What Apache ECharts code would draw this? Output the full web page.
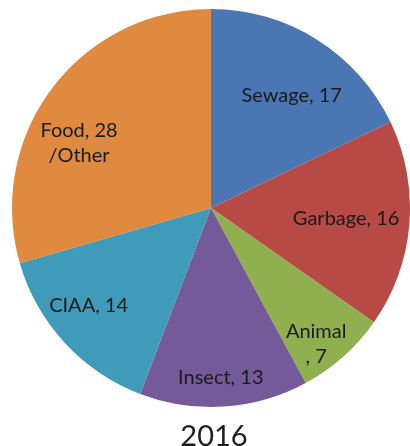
<!DOCTYPE html>
<html>
<head>
<meta charset="utf-8">
<script src="https://cdn.jsdelivr.net/npm/echarts@6/dist/echarts.min.js"></script>
<style>
html,body{margin:0;padding:0;background:#fff;}
#chart{width:410px;height:446px;}
</style>
</head>
<body>
<div id="chart"></div>
<script>
const categories = ['Sewage', 'Garbage', 'Animal', 'Insect', 'CIAA', 'Food'];
const values = [17, 16, 7, 13, 14, 28];
const labelTexts = ['Sewage, 17', 'Garbage, 16', 'Animal\n, 7', 'Insect, 13', 'CIAA, 14', 'Food, 28\n/Other'];
const colors = ['#4a76b4', '#b84a45', '#90b050', '#745a98', '#3f9bb9', '#e08a40'];
const labelNudges = [[26, -26], [33, 2], [37, 59], [3, 67], [-47, 28], [-50, -3]];
const title = '2016';

const chart = echarts.init(document.getElementById('chart'));
chart.setOption({
  animation: false,
  title: {
    text: title,
    left: 209,
    top: 417,
    textAlign: 'center',
    textStyle: {fontFamily: 'Lato', fontSize: 29, fontWeight: 'normal', color: '#1e1e1e'}
  },
  series: [{
    type: 'pie',
    center: [211, 208],
    radius: [0, 199],
    startAngle: 90,
    clockwise: true,
    avoidLabelOverlap: false,
    itemStyle: {borderWidth: 0},
    label: {
      show: true,
      position: 'inside',
      fontFamily: 'Lato',
      fontSize: 20,
      lineHeight: 25,
      color: '#1a1a1a',
      align: 'center'
    },
    labelLine: {show: false},
    data: categories.map((c, i) => ({
      name: c,
      value: values[i],
      itemStyle: {color: colors[i]},
      label: {formatter: labelTexts[i], offset: labelNudges[i]}
    }))
  }]
});
</script>
</body>
</html>
